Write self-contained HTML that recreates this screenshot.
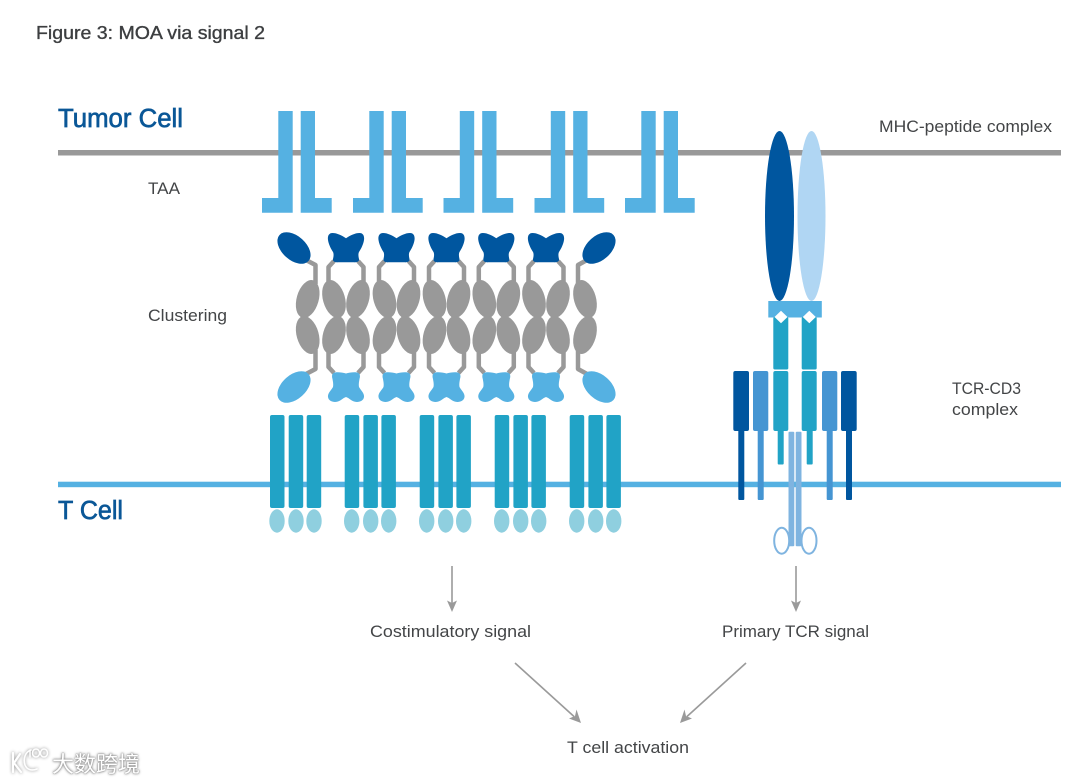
<!DOCTYPE html>
<html><head><meta charset="utf-8"><style>
html,body{margin:0;padding:0;background:#fff;width:1080px;height:783px;overflow:hidden}
svg{display:block;position:absolute;left:0;top:0}
text{font-family:"Liberation Sans",sans-serif;fill:#434547;font-size:16.5px}
.wm{position:absolute;left:52px;top:749px;font:22px/28px "Noto Sans CJK SC","Liberation Sans",sans-serif;color:#fff;letter-spacing:0;text-shadow:0 0 2px #888,0 0 3px #999,0 0 1px #777}
</style></head><body>
<svg width="1080" height="783" viewBox="0 0 1080 783" xmlns="http://www.w3.org/2000/svg">
<defs>
<g id="taa" fill="#55b1e2">
<path d="M16.3 0H30.7V101.7H0V87H16.3Z"/>
<path d="M38.7 0H53V87H69.7V101.7H38.7Z"/>
</g>
<path id="bt" fill="#00569f" d="M0 5.300C-4 2.500-9 0-13.500 0C-17.500 0-18.500 3.500-18 7C-17.500 11-15 16-13 19C-12 21-12.500 24-13 26C-13.500 28.500-11 29.500-8 29.300H8C11 29.500 13.500 28.500 13 26C12.500 24 12 21 13 19C15 16 17.500 11 18 7C18.500 3.500 17.500 0 13.500 0C9 0 4 2.500 0 5.300Z"/>
<path id="bb" fill="#55b1e2" d="M0 1.500C-3 .5-8 0-11 .5C-14 1-14.500 4-13.500 7C-13 10-12.500 12-13 15C-14.500 18-18.500 21-18 25C-17.500 29-13 30.500-9 29.800C-5.500 29-3 26 0 25C3 26 5.500 29 9 29.800C13 30.500 17.500 29 18 25C18.500 21 14.500 18 13 15C12.500 12 13 10 13.500 7C14.500 4 14 1 11 .5C8 0 3 .5 0 1.500Z"/>
<g id="col">
<g fill="none" stroke="#999" stroke-width="4.500" stroke-linejoin="round">
<path d="M-12 261L-17.500 267V284"/><path d="M12 261L17.500 267V284"/>
<path d="M-12 373L-17.500 367V350"/><path d="M12 373L17.500 367V350"/>
</g>
<g fill="#999">
<ellipse cx="-12" cy="299" rx="11" ry="19.500" transform="rotate(-16 -12 299)"/>
<ellipse cx="12" cy="299" rx="11" ry="19.500" transform="rotate(16 12 299)"/>
<ellipse cx="-12" cy="335" rx="11" ry="19.500" transform="rotate(16 -12 335)"/>
<ellipse cx="12" cy="335" rx="11" ry="19.500" transform="rotate(-16 12 335)"/>
</g>
<use href="#bt" y="233"/>
<use href="#bb" y="372"/>
</g>
<g id="cd28">
<g fill="#21a3c6">
<rect x="0" y="415" width="14.500" height="93" rx="2"/>
<rect x="18.700" y="415" width="14.500" height="93" rx="2"/>
<rect x="36.700" y="415" width="14.500" height="93" rx="2"/>
</g>
<g fill="#8fcfdf">
<ellipse cx="7" cy="521" rx="7.700" ry="11.700"/>
<ellipse cx="26" cy="521" rx="7.700" ry="11.700"/>
<ellipse cx="44" cy="521" rx="7.700" ry="11.700"/>
</g>
</g>
</defs>

<text x="36" y="39" style="font-size:18.500px;font-weight:500;fill:#3c3e40;stroke:#3c3e40;stroke-width:.35" textLength="229" lengthAdjust="spacingAndGlyphs">Figure 3: MOA via signal 2</text>
<text x="58" y="127" style="font-size:25.500px;fill:#0a5797;stroke:#0a5797;stroke-width:.65" textLength="125" lengthAdjust="spacingAndGlyphs">Tumor Cell</text>
<text x="58" y="519" style="font-size:25.500px;fill:#0a5797;stroke:#0a5797;stroke-width:.65" textLength="65" lengthAdjust="spacingAndGlyphs">T Cell</text>
<text x="879" y="132" textLength="173" lengthAdjust="spacingAndGlyphs">MHC-peptide complex</text>
<text x="148" y="194" textLength="32" lengthAdjust="spacingAndGlyphs">TAA</text>
<text x="148" y="321" textLength="79" lengthAdjust="spacingAndGlyphs">Clustering</text>
<text x="952" y="394" textLength="69" lengthAdjust="spacingAndGlyphs">TCR-CD3</text>
<text x="952" y="415" textLength="66" lengthAdjust="spacingAndGlyphs">complex</text>
<text x="370" y="637" textLength="161" lengthAdjust="spacingAndGlyphs">Costimulatory signal</text>
<text x="722" y="637" textLength="147" lengthAdjust="spacingAndGlyphs">Primary TCR signal</text>
<text x="567" y="753" textLength="122" lengthAdjust="spacingAndGlyphs">T cell activation</text>

<rect x="58" y="150" width="1003" height="5.500" fill="#999"/>
<rect x="58" y="481.700" width="1003" height="5.500" fill="#55b1e2"/>

<use href="#taa" x="262" y="111"/>
<use href="#taa" x="353" y="111"/>
<use href="#taa" x="443.500" y="111"/>
<use href="#taa" x="534.500" y="111"/>
<use href="#taa" x="625" y="111"/>

<use href="#col" x="346"/>
<use href="#col" x="396.500"/>
<use href="#col" x="446.500"/>
<use href="#col" x="496.300"/>
<use href="#col" x="546"/>

<g fill="none" stroke="#999" stroke-width="4.500" stroke-linejoin="round">
<path d="M306 260L315.500 265V284"/><path d="M306 374L315.500 369V350"/>
<path d="M587 260L578 265V284"/><path d="M587 374L578 369V350"/>
</g>
<g fill="#999">
<ellipse cx="307.700" cy="299" rx="11" ry="19.500" transform="rotate(16 307.700 299)"/>
<ellipse cx="307.700" cy="335" rx="11" ry="19.500" transform="rotate(-16 307.700 335)"/>
<ellipse cx="585" cy="299" rx="11" ry="19.500" transform="rotate(-16 585 299)"/>
<ellipse cx="585" cy="335" rx="11" ry="19.500" transform="rotate(16 585 335)"/>
</g>
<ellipse cx="294" cy="248" rx="19.500" ry="12" fill="#00569f" transform="rotate(42 294 248)"/>
<ellipse cx="294" cy="387" rx="19.500" ry="12" fill="#55b1e2" transform="rotate(-42 294 387)"/>
<ellipse cx="599" cy="248" rx="19.500" ry="12" fill="#00569f" transform="rotate(-42 599 248)"/>
<ellipse cx="599" cy="387" rx="19.500" ry="12" fill="#55b1e2" transform="rotate(42 599 387)"/>

<use href="#cd28" x="270"/>
<use href="#cd28" x="344.700"/>
<use href="#cd28" x="419.700"/>
<use href="#cd28" x="494.700"/>
<use href="#cd28" x="569.700"/>

<ellipse cx="779.500" cy="216" rx="14.500" ry="85" fill="#00569f"/>
<ellipse cx="811.500" cy="216" rx="14" ry="85" fill="#b0d6f3"/>
<rect x="768.300" y="301" width="53.500" height="16.500" fill="#55b1e2"/>
<rect x="773.300" y="317" width="15" height="52.500" rx="1.500" fill="#21a3c6"/>
<rect x="801.700" y="317" width="15" height="52.500" rx="1.500" fill="#21a3c6"/>
<path d="M781 310.700L787.500 317L781 323.300L774.500 317Z M809.300 310.700L815.800 317L809.300 323.300L802.800 317Z" fill="#fff"/>

<rect x="738.300" y="428" width="6" height="72" rx="1" fill="#00569f"/>
<rect x="846" y="428" width="6" height="72" rx="1" fill="#00569f"/>
<rect x="757.700" y="428" width="6" height="72" rx="1" fill="#4595d2"/>
<rect x="826.700" y="428" width="6" height="72" rx="1" fill="#4595d2"/>
<rect x="777.700" y="428" width="6" height="36.500" rx="1" fill="#21a3c6"/>
<rect x="806.700" y="428" width="6" height="36.500" rx="1" fill="#21a3c6"/>
<rect x="733.300" y="371" width="15.700" height="60" rx="2" fill="#00569f"/>
<rect x="841" y="371" width="15.700" height="60" rx="2" fill="#00569f"/>
<rect x="753" y="371" width="15.300" height="60" rx="2" fill="#4595d2"/>
<rect x="822" y="371" width="15.300" height="60" rx="2" fill="#4595d2"/>
<rect x="773.300" y="371" width="15" height="60" rx="2" fill="#21a3c6"/>
<rect x="801.700" y="371" width="15" height="60" rx="2" fill="#21a3c6"/>

<rect x="788.500" y="431.700" width="5.800" height="114.500" rx="1" fill="#7fb4e0"/>
<rect x="795.700" y="431.700" width="5.800" height="114.500" rx="1" fill="#7fb4e0"/>
<ellipse cx="781.700" cy="540.700" rx="7.500" ry="13" fill="#fff" stroke="#7fb4e0" stroke-width="2"/>
<ellipse cx="809" cy="540.700" rx="7.500" ry="13" fill="#fff" stroke="#7fb4e0" stroke-width="2"/>

<g stroke="#9a9a9a" stroke-width="1.600" fill="none">
<path d="M452 566V604"/><path d="M796 566V604"/>
<path d="M515 663L574 716.500"/><path d="M746 663L687 716.500"/>
</g>
<g fill="#9a9a9a">
<path d="M452 612L447 600.500L452 603L457 600.500Z"/>
<path d="M796 612L791 600.500L796 603L801 600.500Z"/>
<path d="M581 723L569 718.500L575 716L576.500 709.500Z"/>
<path d="M680 723L692 718.500L686 716L684.500 709.500Z"/>
</g>

<g fill="none" stroke-linecap="round" style="filter:drop-shadow(0 0 1.500px #888)">
<g stroke="#fff" stroke-width="2.200">
<path d="M13 753V772"/>
<path d="M20 754L14 763L21 772"/>
<path d="M31 750C25 752 23 759 25 765C27 770 32 771 37 769" stroke-width="1.600"/>
<path d="M30 750V757" stroke-width="1.500"/>
<ellipse cx="36" cy="753" rx="3.500" ry="4" stroke-width="1.500"/>
<ellipse cx="44" cy="753" rx="3.500" ry="4" stroke-width="1.500"/>
</g>
</g>
</svg>
<div class="wm">大数跨境</div>
</body></html>
